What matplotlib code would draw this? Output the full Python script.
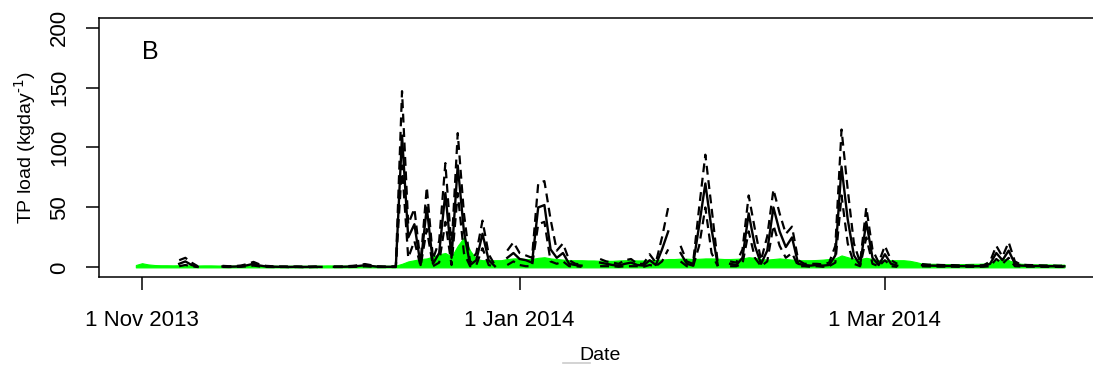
import numpy as np
import pandas as pd
import matplotlib
matplotlib.use('Agg')
import matplotlib.pyplot as plt
import matplotlib.dates as mdates
from matplotlib.lines import Line2D

plt.rcParams['font.family'] = ['Liberation Sans', 'DejaVu Sans']

nan = np.nan

# daily series, 31 Oct 2013 .. 30 Mar 2014 (nan = no estimate that day)
dates = pd.date_range('2013-10-31', '2014-03-30', freq='D')

# TP load estimate (kg/day)
est_oct = [nan]
est_nov = [nan, nan, nan, nan, nan, nan, 3, 5, 2, 0.5, nan, nan, nan,
           0.8, 0.6, 0.7, 1.0, 1.8, 3.0, 1.6, 0.8, 0.6, 0.5, 0.5, 0.4, 0.5, 0.4, 0.4, 0.5, 0.4]
est_dec = [nan, 0.5, 0.5, 0.6, 0.8, 1.2, 1.8, 1.2, 0.6, 0.5, 0.5, 0.6,
           110, 25, 36, 2, 50, 3, 12, 62, 8, 85, 30, 2, 6, 28, 6, 1, nan, 8, 12]
est_jan = [7, 6, 4, 50, 52, 15, 8, 12, 3, 2, 1.5, nan, nan,
           4, 3, 2, 1.5, 3, 4, 2, 1.5, 6, 2, 15, 30, nan, 12, 3, 1.5, 35, 70]
est_feb = [32, 2, nan, 3, 2, 8, 45, 18, 3, 14, 50, 30, 17, 25, 3, 2, 1.5, 2, 1.5, 2,
           10, 84, 40, 10, 2, 38, 8, 2]
est_mar = [11, 3, 1.5, nan, nan, nan, 1.8, 1.5, 1.4, 1.3, 1.2, 1.2, 1.1, 1.1, 1.0, 1.0, 1.2,
           3, 12, 6, 14, 3, 1.5, 1.3, 1.2, 1.1, 1.0, 1.0, 0.9, 0.9]

# lower bound
lo_oct = [nan]
lo_nov = [nan, nan, nan, nan, nan, nan, 1, 2, 1, 0.3, nan, nan, nan,
          0.4, 0.3, 0.4, 0.5, 0.9, 1.5, 0.8, 0.4, 0.3, 0.3, 0.3, 0.2, 0.3, 0.2, 0.2, 0.3, 0.2]
lo_dec = [nan, 0.3, 0.3, 0.3, 0.4, 0.6, 0.9, 0.6, 0.3, 0.3, 0.3, 0.3,
          85, 8, 22, 1, 32, 1, 4, 38, 2, 62, 12, 1, 2, 16, 2, 0.5, nan, 2, 5]
lo_jan = [2, 1, 1, 36, 38, 5, 3, 5, 1, 1, 0.5, nan, nan,
          1, 1, 1, 0.5, 1, 1, 1, 0.5, 2, 1, 5, 15, nan, 5, 1, 0.5, 18, 50]
lo_feb = [12, 1, nan, 1, 1, 3, 30, 8, 1, 5, 35, 18, 8, 12, 1, 1, 0.5, 1, 0.5, 1,
          4, 60, 20, 3, 1, 25, 3, 1]
lo_mar = [6, 1, 0.5, nan, nan, nan, 0.9, 0.8, 0.7, 0.6, 0.6, 0.6, 0.5, 0.5, 0.5, 0.5, 0.6,
          1, 7, 3, 8, 1, 0.8, 0.6, 0.6, 0.5, 0.5, 0.5, 0.4, 0.4]

# upper bound
hi_oct = [nan]
hi_nov = [nan, nan, nan, nan, nan, nan, 6, 8, 4, 1, nan, nan, nan,
          1.3, 1.0, 1.1, 1.6, 2.8, 4.6, 2.5, 1.3, 1.0, 0.8, 0.8, 0.7, 0.8, 0.7, 0.7, 0.8, 0.7]
hi_dec = [nan, 0.8, 0.8, 1.0, 1.3, 1.9, 2.8, 1.9, 1.0, 0.8, 0.8, 1.0,
          147, 36, 49, 4, 67, 7, 22, 87, 16, 112, 45, 4, 12, 39, 11, 2, nan, 14, 21]
hi_jan = [12, 10, 8, 70, 72, 40, 14, 20, 6, 3, 2.5, nan, nan,
          7, 5, 4, 3, 6, 7, 3, 3, 11, 4, 25, 50, nan, 18, 5, 3, 50, 94]
hi_feb = [50, 4, nan, 5, 4, 15, 60, 32, 6, 26, 65, 45, 28, 34, 6, 3, 3, 3, 2.5, 4,
          18, 115, 65, 20, 4, 50, 15, 4]
hi_mar = [18, 6, 3, nan, nan, nan, 2.8, 2.3, 2.2, 2.0, 1.9, 1.9, 1.7, 1.7, 1.6, 1.6, 1.9,
          5, 18, 9, 21, 5, 2.3, 2.0, 1.9, 1.7, 1.6, 1.6, 1.4, 1.4]

# comparison load (green band)
grn_oct = [2.0]
grn_nov = [3.5, 2.5, 2.0, 1.8, 1.8, 1.7, 1.8, 1.8, 1.7, 1.6, 1.7, 1.7, 1.6, 1.5, 1.5,
           1.5, 1.6, 1.7, 1.8, 1.6, 1.5, 1.5, 1.4, 1.4, 1.4, 1.5, 1.4, 1.4, 1.5, 1.6]
grn_dec = [1.7, 1.6, 1.5, 1.5, 1.5, 1.6, 1.6, 1.5, 1.5, 1.4, 1.4, 1.5,
           3, 5, 6, 7, 7.5, 9, 11, 12, 9, 18, 25, 14, 7, 6, 6, 6, 6, 7, 7.5]
grn_jan = [7.5, 7, 7, 8, 8.5, 7.5, 7, 6.5, 6, 6, 6, 5.8, 5.8, 5.5, 5.5, 5.5, 5.8, 6, 6,
           5.8, 5.8, 6, 6.2, 6.5, 7, 7, 7.3, 7.3, 7, 7.2, 7.5]
grn_feb = [7.5, 7.3, 7, 7, 7.2, 7.5, 8.5, 8, 7, 6.5, 7, 7.5, 7, 6.5, 6, 6, 6, 6.2, 6.5, 7,
           7.5, 10, 8.5, 7, 7, 8, 7, 6]
grn_mar = [6, 6, 6, 6, 5.5, 4.5, 3.2, 3, 3, 2.8, 2.8, 2.8, 2.7, 2.8, 3, 3, 3.2,
           4, 5.5, 7.5, 6, 4, 3, 2.8, 2.6, 2.5, 2.5, 2.4, 2.3, 2.3]

est = np.array(est_oct + est_nov + est_dec + est_jan + est_feb + est_mar, dtype=float)
lo = np.array(lo_oct + lo_nov + lo_dec + lo_jan + lo_feb + lo_mar, dtype=float)
hi = np.array(hi_oct + hi_nov + hi_dec + hi_jan + hi_feb + hi_mar, dtype=float)
grn = np.array(grn_oct + grn_nov + grn_dec + grn_jan + grn_feb + grn_mar, dtype=float)

tick_dates = pd.to_datetime(['2013-11-01', '2014-01-01', '2014-03-01'])
tick_labels = ['1 Nov 2013', '1 Jan 2014', '1 Mar 2014']

fig = plt.figure(figsize=(10.93, 3.65), dpi=100)
ax = fig.add_axes([0.0903, 0.2411, 0.9175, 0.7096])

ax.fill_between(dates, 0, grn, color='#00ff00', lw=0.8, zorder=1)
ax.plot(dates, est, color='black', lw=1.7, zorder=3)
ax.plot(dates, lo, color='black', lw=1.6, ls=(0, (4, 2.5)), zorder=2)
ax.plot(dates, hi, color='black', lw=1.6, ls=(0, (4, 2.5)), zorder=2)

ax.set_xlim(mdates.date2num(pd.Timestamp('2013-10-25')), mdates.date2num(pd.Timestamp('2014-04-05')))
ax.set_ylim(-8, 208)

ax.set_xticks(tick_dates)
ax.set_xticklabels(tick_labels, fontsize=16)
ax.set_yticks([0, 50, 100, 150, 200])
ax.set_yticklabels(['0', '50', '100', '150', '200'], fontsize=16, rotation=90, va='center')
ax.tick_params(axis='x', length=9.5, width=1.1, pad=14)
ax.tick_params(axis='y', length=9.5, width=1.1, pad=11)
for s in ax.spines.values():
    s.set_linewidth(1.1)

ax.set_xlabel('Date', fontsize=14, labelpad=12)
ax.set_ylabel('TP load (kgday$^{\\text{-1}}$)', fontsize=14, labelpad=8)
ax.text(0.043, 0.915, 'B', transform=ax.transAxes, fontsize=18, va='top', ha='left')

# faint stroke left of the axis title
fig.add_artist(Line2D([563 / 1093, 590 / 1093], [1 - 363 / 365, 1 - 363 / 365],
                      color='#cccccc', lw=1.2))

fig.savefig('out.png', dpi=100)
